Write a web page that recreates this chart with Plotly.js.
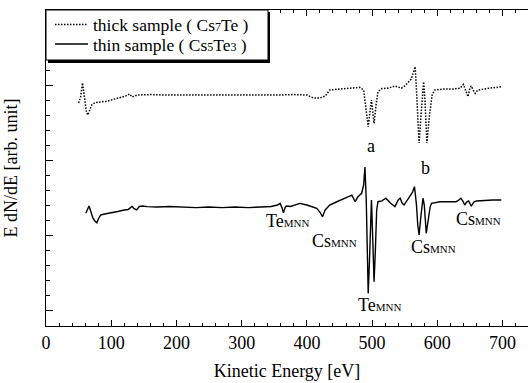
<!DOCTYPE html>
<html>
<head>
<meta charset="utf-8">
<script src="https://cdn.plot.ly/plotly-3.0.1.min.js"></script>
<style>html,body{margin:0;padding:0;background:#fff}#chart{width:528px;height:383px}</style>
</head>
<body>
<div id="chart"></div>
<script>
// Thick sample (Cs7Te) – kinetic energy [eV] and dN/dE [arb. unit]
const thickEnergy = [50,53,56,59,62,64,67,70,75,85,95,105,115,122,128,132,140,160,180,200,220,240,260,280,300,320,340,360,380,400,410,420,428,435,450,470,481,487,490,494,497,499,501,503,506,509,515,525,535,545,550,555,560,563,566,568,570,572,575,579,581,584,588,592,596,610,625,635,640,644,647,650,652,655,658,662,670,680,690,698];
const thickSignal = [14.82,15.22,16.15,15.02,14.22,14.02,14.35,14.68,14.84,14.88,14.95,15.08,15.18,15.28,15.42,15.22,15.35,15.38,15.35,15.35,15.32,15.35,15.32,15.35,15.35,15.32,15.35,15.35,15.38,15.35,15.15,15.15,15.28,15.68,15.75,15.81,15.86,15.68,14.68,13.24,14.35,15.02,14.22,13.47,14.68,15.57,15.78,15.81,15.95,15.81,15.95,16.15,16.41,16.81,17.23,15.68,13.36,12.16,14.02,16.23,15.02,12.16,14.02,15.35,15.68,15.75,15.75,15.81,16.06,15.55,15.24,15.81,15.95,15.68,15.46,15.68,15.75,15.81,15.85,15.90];

// Thin sample (Cs5Te3)
const thinEnergy = [61,63,66,69,72,75,78,81,84,90,100,110,120,126,129,132,135,139,143,148,155,170,190,210,230,250,270,290,310,330,345,355,359,362,364,367,369,375,389,400,410,415,420,424,428,435,445,456,462,469,472,474,478,484,487,489,491,493,494,496,498,499,501,503,505,507,509,515,521,528,535,540,543,546,549,553,558,562,565,568,570,572,575,578,580,583,586,589,591,604,620,629,633,636,639,642,645,648,652,656,660,670,685,698];
const thinSignal = [7.49,7.71,7.97,7.57,7.16,6.98,6.86,7.18,7.38,7.44,7.51,7.61,7.71,7.74,7.85,7.95,7.80,7.71,7.94,7.97,7.93,7.91,7.94,7.91,7.87,7.91,7.87,7.91,7.87,7.91,7.94,8.04,8.15,7.84,7.53,7.91,7.97,7.94,8.15,8.04,7.91,7.82,7.57,7.26,7.71,8.04,8.24,8.49,8.57,8.70,8.44,8.26,8.57,8.82,9.37,10.56,8.37,3.72,2.17,4.39,7.71,8.37,5.71,2.94,5.05,7.71,8.26,8.31,8.49,8.17,7.93,8.37,8.49,8.17,8.04,8.31,8.59,8.90,9.26,8.04,6.71,6.05,7.38,8.49,8.04,6.16,7.04,7.91,8.15,8.26,8.26,8.26,8.37,8.49,8.31,8.04,8.24,8.31,7.97,8.24,8.31,8.34,8.37,8.37];

const xTickVals = [0,100,200,300,400,500,600,700];
const xTickText = ['0','100','200','300','400','500','600','700'];
const seriesNames = ['thick sample ( Cs7Te )', 'thin sample ( Cs5Te3 )'];

const FONT = 'Liberation Serif, Times New Roman, serif';
const sub = s => "<span style='font-size:11px'>" + s + "</span>";
const dig = s => "<span style='font-size:12px'>" + s + "</span>";
const richName = n => n.replace(/(\d)/g, (m) => dig(m));

const DOT = {color: '#000', width: 1.5, dash: '1.5px,1.5px'};
const SOLID = {color: '#000', width: 1.4};

const traces = [
  {x: thickEnergy, y: thickSignal, mode: 'lines', name: seriesNames[0], line: DOT, showlegend: false},
  {x: thinEnergy, y: thinSignal, mode: 'lines', name: seriesNames[1], line: SOLID, showlegend: false}
];

// pixel -> paper helpers for the legend box (plot area: x 46..528, y 10..326)
const PX = p => (p - 46) / 482;
const PY = p => (326 - p) / 316;

const legendShapes = [
  {type: 'rect', xref: 'paper', yref: 'paper', layer: 'above',
   x0: PX(48), x1: PX(270), y0: PY(63), y1: PY(12), fillcolor: '#000', line: {width: 0}},
  {type: 'rect', xref: 'paper', yref: 'paper', layer: 'above',
   x0: PX(46), x1: PX(268), y0: PY(60), y1: PY(10), fillcolor: '#fff', line: {color: '#000', width: 1}},
  {type: 'line', xref: 'paper', yref: 'paper', layer: 'above',
   x0: PX(55), x1: PX(88), y0: PY(24.5), y1: PY(24.5), line: DOT},
  {type: 'line', xref: 'paper', yref: 'paper', layer: 'above',
   x0: PX(55), x1: PX(88), y0: PY(44), y1: PY(44), line: SOLID}
];
const legendText = [
  {xref: 'paper', yref: 'paper', x: PX(93), y: PY(25), xanchor: 'left', yanchor: 'middle',
   text: richName(seriesNames[0])},
  {xref: 'paper', yref: 'paper', x: PX(93), y: PY(45), xanchor: 'left', yanchor: 'middle',
   text: richName(seriesNames[1])}
].map(a => Object.assign({borderpad: 0, borderwidth: 0,
   font: {family: FONT, size: 17.5, color: '#000'}}, a));

const peakLabels = [
  {x: 498, y: 11.96, text: 'a'},
  {x: 582.5, y: 10.5, text: 'b'},
  {x: 371, y: 6.98, text: 'Te' + sub('MNN')},
  {x: 443, y: 5.65, text: 'Cs' + sub('MNN')},
  {x: 594, y: 5.25, text: 'Cs' + sub('MNN')},
  {x: 663, y: 7.11, text: 'Cs' + sub('MNN')},
  {x: 512, y: 1.40, text: 'Te' + sub('MNN')}
].map(a => Object.assign({xref: 'x', yref: 'y', font: {family: FONT, size: 18, color: '#000'}}, a));

const layout = {
  width: 528, height: 383,
  margin: {l: 46, r: 0, t: 10, b: 57},
  paper_bgcolor: '#fff', plot_bgcolor: '#fff',
  font: {family: FONT, size: 18, color: '#000'},
  showlegend: false,
  xaxis: {range: [0, 739], tickvals: xTickVals, ticktext: xTickText,
          ticks: 'inside', ticklen: 6, tickwidth: 1, tickcolor: '#000',
          minor: {dtick: 20, tick0: 0, ticks: 'inside', ticklen: 3, tickcolor: '#000'},
          showline: true, linecolor: '#000', linewidth: 1, mirror: 'ticks',
          showgrid: false, zeroline: false,
          tickfont: {family: FONT, size: 18},
          title: {text: 'Kinetic Energy [eV]', font: {family: FONT, size: 18}, standoff: 12}},
  yaxis: {range: [0, 21], tick0: 1, dtick: 5, ticks: 'inside', ticklen: 7, tickcolor: '#000',
          minor: {dtick: 1, tick0: 0, ticks: 'inside', ticklen: 4, tickcolor: '#000'},
          showticklabels: false, showline: true, linecolor: '#000', linewidth: 1, mirror: false,
          showgrid: false, zeroline: false,
          title: {text: 'E dN/dE [arb. unit]', font: {family: FONT, size: 18}, standoff: 22}},
  shapes: legendShapes,
  annotations: legendText.concat(peakLabels).map(a => Object.assign({showarrow: false}, a))
};

Plotly.newPlot('chart', traces, layout, {displayModeBar: false, staticPlot: true});
</script>
</body>
</html>
